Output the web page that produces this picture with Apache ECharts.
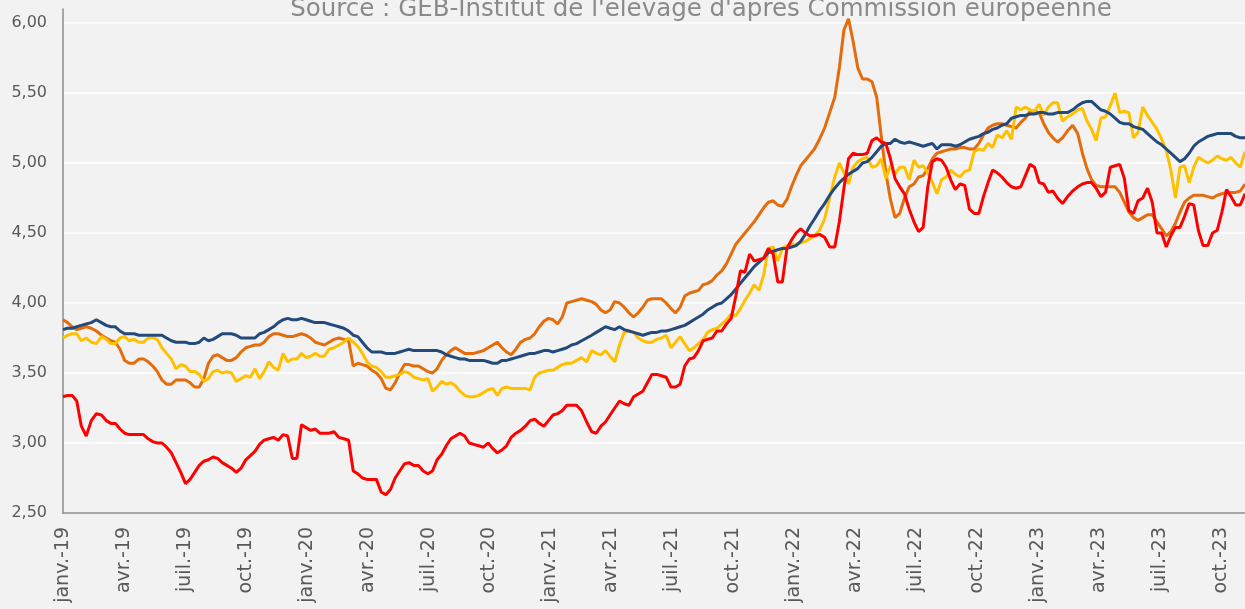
<!DOCTYPE html>
<html>
<head>
<meta charset="utf-8">
<script src="https://cdn.jsdelivr.net/npm/echarts@6/dist/echarts.min.js"></script>
<style>
  html, body { margin: 0; padding: 0; background: #f2f2f2; }
  #chart { width: 1245px; height: 609px; }
</style>
</head>
<body>
<div id="chart"></div>
<script>
// weekly prices, first week = janv. 2019
var startDate = '2019-01-01';
var monthNames = ['janv.', 'févr.', 'mars', 'avr.', 'mai', 'juin', 'juil.', 'août', 'sept.', 'oct.', 'nov.', 'déc.'];
var sourceText = "Source : GEB-Institut de l'elevage d'après Commission européenne";

var red = [
  3.33,3.34,3.34,3.30,3.12,3.05,3.16,3.21,3.20,3.16,
  3.14,3.14,3.10,3.07,3.06,3.06,3.06,3.06,3.03,3.01,
  3.00,3.00,2.97,2.93,2.86,2.79,2.71,2.74,2.79,2.84,
  2.87,2.88,2.90,2.89,2.86,2.84,2.82,2.79,2.82,2.88,
  2.91,2.94,2.99,3.02,3.03,3.04,3.02,3.06,3.05,2.89,
  2.89,3.13,3.11,3.09,3.10,3.07,3.07,3.07,3.08,3.04,
  3.03,3.02,2.80,2.78,2.75,2.74,2.74,2.74,2.65,2.63,
  2.67,2.75,2.80,2.85,2.86,2.84,2.84,2.80,2.78,2.80,
  2.88,2.92,2.98,3.03,3.05,3.07,3.05,3.00,2.99,2.98,
  2.97,3.00,2.96,2.93,2.95,2.98,3.04,3.07,3.09,3.12,
  3.16,3.17,3.14,3.12,3.16,3.20,3.21,3.23,3.27,3.27,
  3.27,3.23,3.15,3.08,3.07,3.12,3.15,3.20,3.25,3.30,
  3.28,3.27,3.33,3.35,3.37,3.43,3.49,3.49,3.48,3.47,
  3.40,3.40,3.42,3.55,3.60,3.61,3.66,3.73,3.74,3.75,
  3.80,3.80,3.85,3.89,4.05,4.23,4.22,4.35,4.30,4.31,
  4.32,4.39,4.35,4.15,4.15,4.39,4.45,4.50,4.53,4.50,
  4.48,4.48,4.49,4.47,4.40,4.40,4.58,4.82,5.03,5.07,
  5.06,5.06,5.07,5.16,5.18,5.15,5.14,5.03,4.89,4.83,
  4.78,4.67,4.58,4.51,4.54,4.83,5.01,5.03,5.02,4.97,
  4.88,4.81,4.85,4.84,4.67,4.64,4.64,4.76,4.86,4.95,
  4.93,4.90,4.86,4.83,4.82,4.83,4.91,4.99,4.97,4.86,
  4.85,4.79,4.80,4.75,4.71,4.76,4.80,4.83,4.85,4.86,
  4.86,4.82,4.76,4.79,4.97,4.98,4.99,4.89,4.66,4.64,
  4.73,4.75,4.82,4.72,4.50,4.50,4.40,4.48,4.54,4.54,
  4.62,4.71,4.70,4.52,4.41,4.41,4.50,4.52,4.65,4.81,
  4.76,4.70,4.70,4.78
];

var orange = [
  3.88,3.86,3.83,3.81,3.82,3.83,3.82,3.80,3.77,3.75,
  3.73,3.72,3.67,3.59,3.57,3.57,3.60,3.60,3.58,3.55,
  3.51,3.45,3.42,3.42,3.45,3.45,3.45,3.43,3.40,3.40,
  3.46,3.57,3.62,3.63,3.61,3.59,3.59,3.61,3.65,3.68,
  3.69,3.70,3.70,3.72,3.76,3.78,3.78,3.77,3.76,3.76,
  3.77,3.78,3.77,3.75,3.72,3.71,3.70,3.72,3.74,3.75,
  3.74,3.73,3.55,3.57,3.56,3.55,3.52,3.50,3.46,3.39,
  3.38,3.43,3.50,3.56,3.56,3.55,3.55,3.53,3.51,3.50,
  3.53,3.59,3.63,3.66,3.68,3.66,3.64,3.64,3.64,3.65,
  3.66,3.68,3.70,3.72,3.68,3.65,3.63,3.67,3.72,3.74,
  3.75,3.78,3.83,3.87,3.89,3.88,3.85,3.90,4.00,4.01,
  4.02,4.03,4.02,4.01,3.99,3.95,3.93,3.95,4.01,4.00,
  3.97,3.93,3.90,3.93,3.97,4.02,4.03,4.03,4.03,4.00,
  3.96,3.93,3.97,4.05,4.07,4.08,4.09,4.13,4.14,4.16,
  4.20,4.23,4.28,4.35,4.42,4.46,4.50,4.54,4.58,4.63,
  4.68,4.72,4.73,4.70,4.69,4.74,4.83,4.91,4.98,5.02,
  5.06,5.10,5.17,5.25,5.36,5.47,5.68,5.95,6.03,5.87,
  5.68,5.60,5.60,5.58,5.47,5.19,4.93,4.74,4.61,4.64,
  4.75,4.83,4.85,4.90,4.91,4.96,5.03,5.07,5.08,5.09,
  5.10,5.10,5.11,5.11,5.10,5.10,5.14,5.20,5.25,5.27,
  5.28,5.28,5.27,5.26,5.25,5.29,5.32,5.37,5.37,5.36,
  5.28,5.22,5.18,5.15,5.18,5.23,5.27,5.21,5.07,4.96,
  4.88,4.84,4.83,4.83,4.83,4.83,4.79,4.72,4.65,4.61,
  4.59,4.61,4.63,4.63,4.58,4.53,4.48,4.51,4.57,4.65,
  4.72,4.75,4.77,4.77,4.77,4.76,4.75,4.77,4.78,4.79,
  4.79,4.79,4.80,4.85
];

var yellow = [
  3.75,3.77,3.78,3.78,3.73,3.75,3.72,3.71,3.76,3.74,
  3.71,3.71,3.75,3.76,3.73,3.74,3.72,3.72,3.75,3.75,
  3.74,3.68,3.64,3.60,3.53,3.56,3.55,3.51,3.51,3.49,
  3.44,3.46,3.51,3.52,3.50,3.51,3.50,3.44,3.46,3.48,
  3.47,3.53,3.46,3.51,3.58,3.54,3.52,3.64,3.58,3.60,
  3.60,3.64,3.61,3.62,3.64,3.62,3.62,3.67,3.68,3.70,
  3.72,3.75,3.72,3.69,3.64,3.58,3.55,3.54,3.51,3.47,
  3.47,3.48,3.49,3.51,3.50,3.47,3.46,3.45,3.46,3.37,
  3.40,3.44,3.42,3.43,3.41,3.37,3.34,3.33,3.33,3.34,
  3.36,3.38,3.39,3.34,3.39,3.40,3.39,3.39,3.39,3.39,
  3.38,3.47,3.50,3.51,3.52,3.52,3.54,3.56,3.57,3.57,
  3.59,3.61,3.58,3.66,3.64,3.63,3.66,3.62,3.58,3.70,
  3.79,3.80,3.79,3.75,3.73,3.72,3.72,3.74,3.75,3.77,
  3.68,3.72,3.76,3.71,3.66,3.68,3.71,3.74,3.79,3.81,
  3.82,3.85,3.88,3.92,3.91,3.96,4.02,4.07,4.13,4.09,
  4.20,4.39,4.40,4.30,4.39,4.41,4.42,4.42,4.43,4.44,
  4.46,4.48,4.52,4.60,4.75,4.90,5.00,4.93,4.85,4.97,
  5.01,5.03,5.04,4.97,4.98,5.03,4.89,4.98,4.92,4.97,
  4.97,4.88,5.02,4.97,4.98,4.93,4.86,4.78,4.88,4.90,
  4.95,4.92,4.90,4.94,4.95,5.08,5.10,5.09,5.14,5.11,
  5.20,5.18,5.23,5.17,5.40,5.38,5.40,5.38,5.37,5.42,
  5.34,5.40,5.43,5.43,5.30,5.33,5.35,5.38,5.39,5.30,
  5.24,5.16,5.32,5.33,5.41,5.50,5.36,5.37,5.36,5.18,
  5.22,5.40,5.34,5.29,5.24,5.17,5.09,4.95,4.75,4.97,
  4.98,4.86,4.97,5.04,5.02,5.00,5.02,5.05,5.03,5.02,
  5.04,5.00,4.97,5.08
];

var blue = [
  3.81,3.82,3.82,3.83,3.84,3.85,3.86,3.88,3.86,3.84,
  3.83,3.83,3.80,3.78,3.78,3.78,3.77,3.77,3.77,3.77,
  3.77,3.77,3.75,3.73,3.72,3.72,3.72,3.71,3.71,3.72,
  3.75,3.73,3.74,3.76,3.78,3.78,3.78,3.77,3.75,3.75,
  3.75,3.75,3.78,3.79,3.81,3.83,3.86,3.88,3.89,3.88,
  3.88,3.89,3.88,3.87,3.86,3.86,3.86,3.85,3.84,3.83,
  3.82,3.80,3.77,3.76,3.72,3.68,3.65,3.65,3.65,3.64,
  3.64,3.64,3.65,3.66,3.67,3.66,3.66,3.66,3.66,3.66,
  3.66,3.65,3.63,3.62,3.61,3.60,3.60,3.59,3.59,3.59,
  3.59,3.58,3.57,3.57,3.59,3.59,3.60,3.61,3.62,3.63,
  3.64,3.64,3.65,3.66,3.66,3.65,3.66,3.67,3.68,3.70,
  3.71,3.73,3.75,3.77,3.79,3.81,3.83,3.82,3.81,3.83,
  3.81,3.80,3.79,3.78,3.77,3.78,3.79,3.79,3.80,3.80,
  3.81,3.82,3.83,3.84,3.86,3.88,3.90,3.92,3.95,3.97,
  3.99,4.00,4.03,4.06,4.10,4.14,4.18,4.22,4.26,4.29,
  4.32,4.36,4.37,4.38,4.39,4.39,4.40,4.41,4.44,4.49,
  4.55,4.60,4.66,4.71,4.77,4.82,4.86,4.89,4.92,4.94,
  4.96,5.00,5.01,5.04,5.08,5.12,5.14,5.14,5.17,5.15,
  5.14,5.15,5.14,5.13,5.12,5.13,5.14,5.10,5.13,5.13,
  5.13,5.12,5.13,5.15,5.17,5.18,5.19,5.21,5.22,5.24,
  5.25,5.27,5.28,5.32,5.33,5.34,5.34,5.35,5.35,5.36,
  5.36,5.35,5.35,5.36,5.36,5.36,5.38,5.41,5.43,5.44,
  5.44,5.41,5.38,5.37,5.35,5.32,5.29,5.28,5.28,5.26,
  5.25,5.24,5.21,5.18,5.15,5.13,5.10,5.07,5.04,5.01,
  5.03,5.07,5.12,5.15,5.17,5.19,5.20,5.21,5.21,5.21,
  5.21,5.19,5.18,5.18
];

// date -> position in months since janv. 2019 (so quarters are every 3 units)
function monthPos(d) {
  var y = d.getUTCFullYear(), m = d.getUTCMonth();
  var days = new Date(Date.UTC(y, m + 1, 0)).getUTCDate();
  return (y - 2019) * 12 + m + (d.getUTCDate() - 1) / days;
}

var t0 = new Date(startDate + 'T00:00:00Z').getTime();
var weeks = red.map(function (v, i) {
  return monthPos(new Date(t0 + i * 7 * 86400000));
});
function pairs(values) {
  return values.map(function (v, i) { return [weeks[i], v]; });
}

var chart = echarts.init(document.getElementById('chart'));
var font = 'DejaVu Sans';

var option = {
  backgroundColor: '#f2f2f2',
  animation: false,
  grid: { left: 63, right: 0, top: 9, bottom: 96 },
  graphic: [{
    type: 'text',
    x: 701,
    y: -3,
    z: 100,
    style: {
      text: sourceText,
      font: '24.5px "DejaVu Sans"',
      fill: '#8a8a8a',
      align: 'center',
      verticalAlign: 'top'
    }
  }],
  xAxis: {
    type: 'value',
    min: 0,
    max: weeks[weeks.length - 1],
    interval: 3,
    axisLine: { lineStyle: { color: '#8c8c8c', width: 1.5 } },
    axisTick: { show: false },
    splitLine: { show: false },
    axisLabel: {
      rotate: 90,
      margin: 14,
      fontFamily: font,
      fontSize: 19,
      color: '#595959',
      showMaxLabel: false,
      formatter: function (v) {
        var m = Math.round(v);
        if (Math.abs(v - m) > 1e-6 || m % 3 !== 0) return '';
        var y = 2019 + Math.floor(m / 12);
        return monthNames[m % 12] + '-' + String(y).slice(2);
      }
    }
  },
  yAxis: {
    type: 'value',
    min: 2.5,
    max: 6.1,
    interval: 0.5,
    axisLine: { show: true, lineStyle: { color: '#8c8c8c', width: 1.5 } },
    axisTick: { show: false },
    splitLine: {
      lineStyle: {
        width: 1.5,
        color: ['#ffffff', '#ffffff', '#ffffff', '#ffffff', '#ffffff', '#ffffff', '#ffffff', '#ffffff', 'rgba(0,0,0,0)']
      }
    },
    axisLabel: {
      margin: 16,
      fontFamily: font,
      fontSize: 16,
      color: '#595959',
      showMaxLabel: false,
      formatter: function (v) { return v.toFixed(2).replace('.', ','); }
    }
  },
  series: [
    { name: 'orange', type: 'line', data: pairs(orange), showSymbol: false, lineStyle: { color: '#e46c0a', width: 3 }, itemStyle: { color: '#e46c0a' } },
    { name: 'yellow', type: 'line', data: pairs(yellow), showSymbol: false, lineStyle: { color: '#ffc000', width: 3 }, itemStyle: { color: '#ffc000' } },
    { name: 'blue', type: 'line', data: pairs(blue), showSymbol: false, lineStyle: { color: '#244a7c', width: 3 }, itemStyle: { color: '#244a7c' } },
    { name: 'red', type: 'line', data: pairs(red), showSymbol: false, lineStyle: { color: '#ff0000', width: 3 }, itemStyle: { color: '#ff0000' } }
  ]
};

chart.setOption(option);
</script>
</body>
</html>
